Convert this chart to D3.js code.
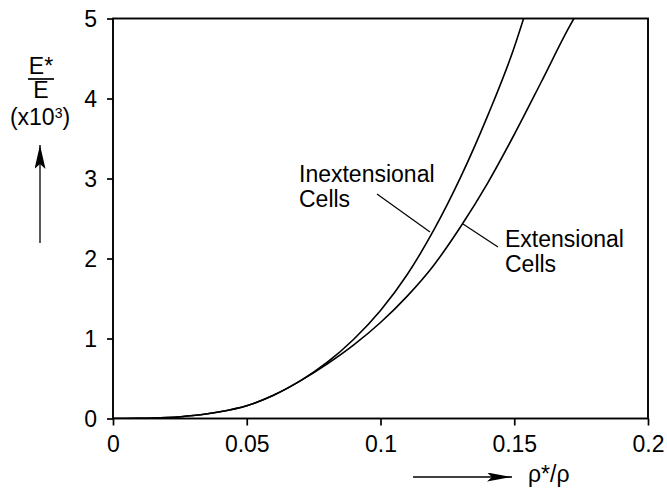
<!DOCTYPE html>
<html>
<head>
<meta charset="utf-8">
<script src="https://cdn.jsdelivr.net/npm/d3@7"></script>
<style>
  html, body { margin: 0; padding: 0; background: #fff; }
  svg { display: block; }
  text { font-family: "Liberation Sans", Arial, Helvetica, sans-serif; fill: #000; }
</style>
</head>
<body>
<svg id="chart" width="667" height="493"></svg>
<script>
// ---- data ----
const xTicks = [0, 0.05, 0.1, 0.15, 0.2];
const xTickLabels = ["0", "0.05", "0.1", "0.15", "0.2"];
const yTicks = [0, 1, 2, 3, 4, 5];
const yTickLabels = ["0", "1", "2", "3", "4", "5"];

const inextDensity = [0, 0.01, 0.02, 0.03, 0.04, 0.05, 0.06, 0.07, 0.08, 0.09, 0.10, 0.11, 0.12, 0.13, 0.14, 0.15, 0.1535];
const inextModulus = [0, 0.002, 0.012, 0.038, 0.085, 0.16, 0.29, 0.47, 0.70, 0.99, 1.35, 1.80, 2.36, 3.02, 3.78, 4.64, 5.0];

const extDensity = [0, 0.01, 0.02, 0.03, 0.04, 0.05, 0.06, 0.07, 0.08, 0.09, 0.10, 0.11, 0.12, 0.13, 0.14, 0.15, 0.16, 0.17, 0.1723];
const extModulus = [0, 0.002, 0.012, 0.038, 0.085, 0.16, 0.29, 0.47, 0.68, 0.92, 1.20, 1.53, 1.92, 2.40, 2.94, 3.55, 4.20, 4.86, 5.0];

// ---- layout ----
const svg = d3.select("#chart");
const mLeft = 113, mRight = 648, mTop = 18.5, mBottom = 418.5;
const x = d3.scaleLinear().domain([0, 0.2]).range([mLeft, mRight]);
const y = d3.scaleLinear().domain([0, 5]).range([mBottom, mTop]);
const fontSize = 23;

// clip
const defs = svg.append("defs");
defs.append("clipPath").attr("id", "plotclip")
  .append("rect").attr("x", mLeft).attr("y", mTop).attr("width", mRight - mLeft).attr("height", mBottom - mTop);

// frame
svg.append("rect").attr("x", mLeft).attr("y", mTop).attr("width", mRight - mLeft).attr("height", mBottom - mTop)
  .attr("fill", "none").attr("stroke", "#000").attr("stroke-width", 1.9);

// axes
const xAxis = d3.axisBottom(x).tickValues(xTicks).tickFormat((d, i) => xTickLabels[i]).tickSize(7).tickPadding(10);
const gx = svg.append("g").attr("transform", `translate(0,${mBottom})`).call(xAxis);
const yAxis = d3.axisLeft(y).tickValues(yTicks).tickFormat((d, i) => yTickLabels[i]).tickSize(6).tickPadding(10);
const gy = svg.append("g").attr("transform", `translate(${mLeft},0)`).call(yAxis);
[gx, gy].forEach(g => {
  g.select(".domain").remove();
  g.selectAll(".tick line").attr("stroke", "#000").attr("stroke-width", 1.7);
  g.selectAll(".tick text").style("font-size", fontSize + "px")
    .style("font-family", '"Liberation Sans", Arial, sans-serif').attr("fill", "#000");
});
gy.selectAll(".tick text").attr("dy", "0.36em");

// curves
const line = d3.line().x(d => x(d[0])).y(d => y(d[1])).curve(d3.curveMonotoneX);
const plot = svg.append("g").attr("clip-path", "url(#plotclip)");
plot.append("path").datum(inextDensity.map((v, i) => [v, inextModulus[i]]))
  .attr("d", line).attr("fill", "none").attr("stroke", "#000").attr("stroke-width", 1.6);
plot.append("path").datum(extDensity.map((v, i) => [v, extModulus[i]]))
  .attr("d", line).attr("fill", "none").attr("stroke", "#000").attr("stroke-width", 1.6);

// annotations
const ann = svg.append("g").style("font-size", fontSize + "px");
ann.append("text").attr("x", 299).attr("y", 182).text("Inextensional");
ann.append("text").attr("x", 299).attr("y", 207).text("Cells");
ann.append("line").attr("x1", 377).attr("y1", 194).attr("x2", 430).attr("y2", 232)
  .attr("stroke", "#000").attr("stroke-width", 1.2);
ann.append("text").attr("x", 505).attr("y", 247).text("Extensional");
ann.append("text").attr("x", 505).attr("y", 272).text("Cells");
ann.append("line").attr("x1", 463).attr("y1", 224).attr("x2", 498).attr("y2", 247)
  .attr("stroke", "#000").attr("stroke-width", 1.2);

// arrow marker
defs.append("marker").attr("id", "arrowY").attr("viewBox", "0 0 24 11").attr("refX", 24).attr("refY", 5.5)
  .attr("markerWidth", 24).attr("markerHeight", 11).attr("markerUnits", "userSpaceOnUse").attr("orient", "auto")
  .append("path").attr("d", "M0,0 L24,5.5 L0,11 L5,5.5 Z").attr("fill", "#000");
defs.append("marker").attr("id", "arrowX").attr("viewBox", "0 0 25 9").attr("refX", 25).attr("refY", 4.5)
  .attr("markerWidth", 25).attr("markerHeight", 9).attr("markerUnits", "userSpaceOnUse").attr("orient", "auto")
  .append("path").attr("d", "M0,0 L25,4.5 L0,9 L5,4.5 Z").attr("fill", "#000");

// y label
const yl = svg.append("g").style("font-size", fontSize + "px").attr("text-anchor", "middle");
yl.append("text").attr("x", 41).attr("y", 74).text("E*");
yl.append("line").attr("x1", 28).attr("x2", 54).attr("y1", 79).attr("y2", 79).attr("stroke", "#000").attr("stroke-width", 1.7);
yl.append("text").attr("x", 41).attr("y", 98).text("E");
const sc = yl.append("text").attr("x", 40).attr("y", 125);
sc.append("tspan").text("(x10");
sc.append("tspan").attr("dy", -7).style("font-size", "14px").text("3");
sc.append("tspan").attr("dy", 7).text(")");
svg.append("line").attr("x1", 40).attr("x2", 40).attr("y1", 243).attr("y2", 145)
  .attr("stroke", "#000").attr("stroke-width", 1.3).attr("marker-end", "url(#arrowY)");

// x label
svg.append("line").attr("x1", 413).attr("x2", 512).attr("y1", 477).attr("y2", 477)
  .attr("stroke", "#000").attr("stroke-width", 1.3).attr("marker-end", "url(#arrowX)");
svg.append("text").attr("x", 528).attr("y", 482).style("font-size", fontSize + "px").text("ρ*/ρ");
</script>
</body>
</html>
